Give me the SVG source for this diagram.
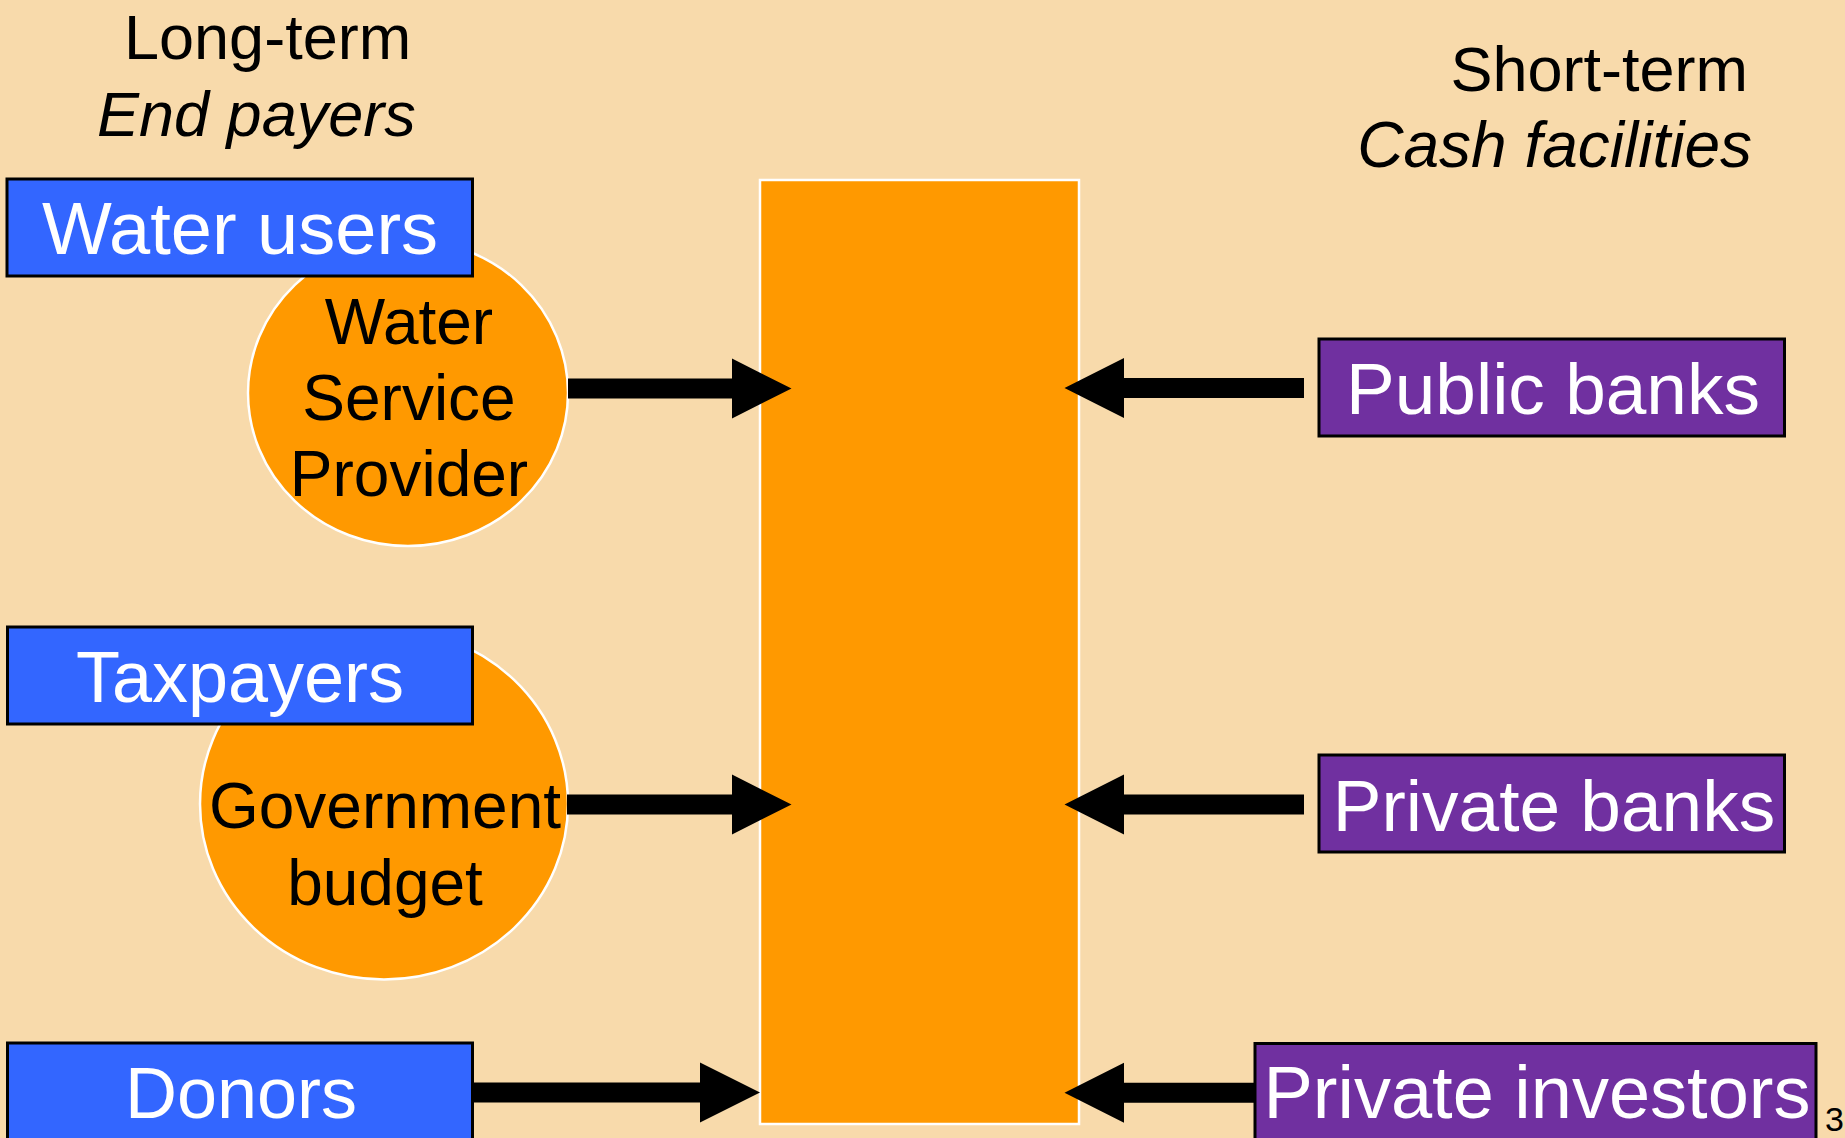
<svg xmlns="http://www.w3.org/2000/svg" width="1845" height="1138" viewBox="0 0 1845 1138">
<style>
text{font-family:"Liberation Sans",Arial,sans-serif}
.hdr{font-size:63px;fill:#000}
.it{font-style:italic}
.blue{fill:#3366FF;stroke:#000;stroke-width:3}
.purple{fill:#7030A0;stroke:#000;stroke-width:3}
.orange{fill:#FF9900;stroke:#FFFFFF;stroke-width:2.5}
.lbl{fill:#FFFFFF;text-anchor:middle}
.dark{fill:#000;text-anchor:middle;font-size:64px}
.arrow{fill:#000}
</style>
<rect x="0" y="0" width="1845" height="1138" fill="#F8DAAB"/>
<g id="headers">
<text class="hdr" x="124" y="59">Long-term</text>
<text class="hdr it" x="97" y="136">End payers</text>
<text class="hdr" x="1748" y="91" text-anchor="end">Short-term</text>
<text class="hdr it" x="1752" y="167" text-anchor="end" style="font-size:64px">Cash facilities</text>
</g>
<g id="central">
<rect class="orange" x="760" y="180" width="319" height="944" stroke-width="2"/>
</g>
<g id="wsp">
<ellipse class="orange" cx="408" cy="393" rx="160" ry="153"/>
<text class="dark" x="409" y="344">Water</text>
<text class="dark" x="409" y="420">Service</text>
<text class="dark" x="409" y="496">Provider</text>
</g>
<g id="gov">
<ellipse class="orange" cx="384" cy="804" rx="184" ry="175.5"/>
<text class="dark" x="385" y="828">Government</text>
<text class="dark" x="385" y="905">budget</text>
</g>
<g id="water-users">
<rect class="blue" x="7" y="179" width="465.5" height="97"/>
<text class="lbl" x="240" y="254" font-size="74">Water users</text>
</g>
<g id="taxpayers">
<rect class="blue" x="7.5" y="627" width="465" height="97"/>
<text class="lbl" x="240" y="702" font-size="72">Taxpayers</text>
</g>
<g id="donors">
<rect class="blue" x="7.5" y="1043" width="465" height="120"/>
<text class="lbl" x="241" y="1118" font-size="72">Donors</text>
</g>
<g id="public-banks">
<rect class="purple" x="1319" y="339" width="465.5" height="97"/>
<text class="lbl" x="1553" y="414" font-size="73">Public banks</text>
</g>
<g id="private-banks">
<rect class="purple" x="1319" y="755" width="465.5" height="97"/>
<text class="lbl" x="1554" y="831" font-size="73">Private banks</text>
</g>
<g id="private-investors">
<rect class="purple" x="1255" y="1043.5" width="561" height="120"/>
<text class="lbl" x="1537" y="1118" font-size="74">Private investors</text>
</g>
<g id="connectors">
<polygon class="arrow" points="568,378.5 732,378.5 732,358.5 791.5,388.5 732,418.5 732,398.5 568,398.5"/>
<polygon class="arrow" points="567,794.5 732,794.5 732,774.5 791.5,804.5 732,834.5 732,814.5 567,814.5"/>
<polygon class="arrow" points="472,1082.5 700,1082.5 700,1062.5 760,1092.5 700,1122.5 700,1102.5 472,1102.5"/>
<polygon class="arrow" points="1304,378 1124,378 1124,358 1064.5,388 1124,418 1124,398 1304,398"/>
<polygon class="arrow" points="1304,794.5 1124,794.5 1124,774.5 1064.5,804.5 1124,834.5 1124,814.5 1304,814.5"/>
<polygon class="arrow" points="1255,1082.8 1124,1082.8 1124,1062.8 1064.5,1092.8 1124,1122.8 1124,1102.8 1255,1102.8"/>
</g>
<g id="page-number">
<text x="1825" y="1131" font-size="34" fill="#000">3</text>
</g>
</svg>
